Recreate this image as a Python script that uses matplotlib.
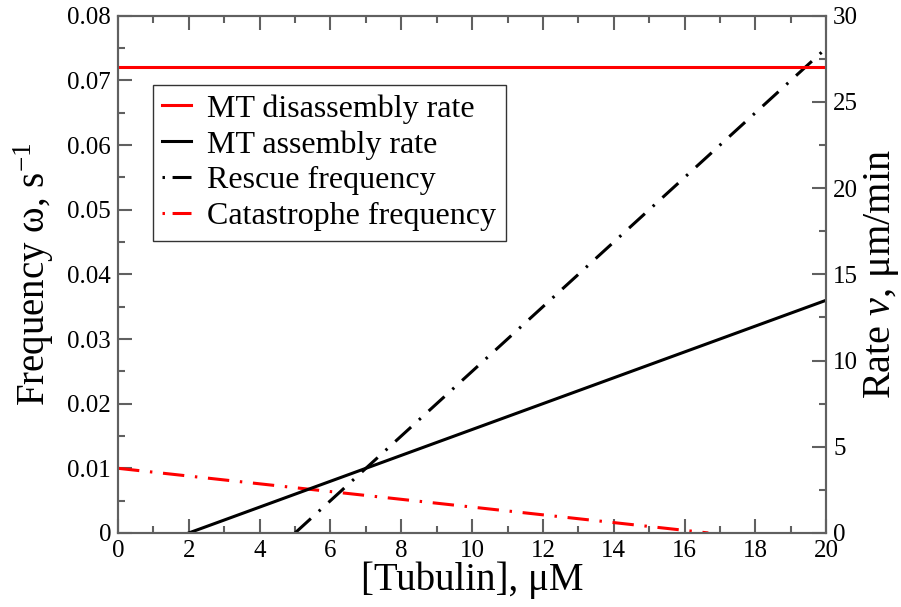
import matplotlib
matplotlib.use("Agg")
import matplotlib.pyplot as plt
from matplotlib.ticker import MultipleLocator

plt.rcParams['font.family'] = ['Liberation Serif', 'DejaVu Serif']
plt.rcParams['mathtext.fontset'] = 'custom'
plt.rcParams['mathtext.rm'] = 'Liberation Serif'
plt.rcParams['mathtext.it'] = 'Liberation Serif:italic'

# Data
disassembly_x = [0, 20]
disassembly_rate = [27, 27]          # um/min (right axis)
assembly_x = [2, 20]
assembly_rate = [0, 13.5]            # um/min (right axis)
rescue_x = [5, 20]
rescue_freq = [0, 0.075]             # 1/s (left axis)
catastrophe_x = [0, 16.67]
catastrophe_freq = [0.01, 0]         # 1/s (left axis)

fig = plt.figure(figsize=(9.01, 6.07), dpi=100)
ax = fig.add_axes([0.131, 0.122, 0.786, 0.852])
ax2 = ax.twinx()

lw = 2.2
dd = (0, (7, 3.5, 0.8, 3.5))
l1, = ax2.plot(disassembly_x, disassembly_rate, color='#ff0000', lw=lw, label='MT disassembly rate')
l2, = ax2.plot(assembly_x, assembly_rate, color='black', lw=lw, label='MT assembly rate')
l3, = ax.plot(rescue_x, rescue_freq, color='black', lw=lw, linestyle=dd, label='Rescue frequency')
l4, = ax.plot(catastrophe_x, catastrophe_freq, color='#ff0000', lw=lw, linestyle=dd, label='Catastrophe frequency')

ax.set_xlim(0, 20)
ax.set_ylim(0, 0.08)
ax2.set_ylim(0, 30)

ax.xaxis.set_major_locator(MultipleLocator(2))
ax.xaxis.set_minor_locator(MultipleLocator(1))
ax.yaxis.set_minor_locator(MultipleLocator(0.005))
ax2.yaxis.set_major_locator(MultipleLocator(5))
ax2.yaxis.set_minor_locator(MultipleLocator(2.5))

ax.set_yticks([0, 0.01, 0.02, 0.03, 0.04, 0.05, 0.06, 0.07, 0.08])
ax.set_yticklabels(['0', '0.01', '0.02', '0.03', '0.04', '0.05', '0.06', '0.07', '0.08'])

spine_c = '#606060'
for a in (ax, ax2):
    for s in a.spines.values():
        s.set_color(spine_c)
        s.set_linewidth(1.5)
    a.tick_params(which='both', direction='in', color=spine_c, width=1.5, labelsize=18)
    a.tick_params(which='major', length=10)
    a.tick_params(which='minor', length=5)
ax.tick_params(axis='x', which='both', top=True, pad=5)
ax.tick_params(axis='y', which='both', left=True, right=False, pad=5)
ax2.tick_params(axis='y', which='both', right=True, left=False, pad=5)

ax.set_xlabel('[Tubulin], μM', fontsize=28, labelpad=0)
ax.set_ylabel('Frequency ω, s$^{-1}$', fontsize=28, labelpad=8)
ax2.set_ylabel('Rate $v$, μm/min', fontsize=29, labelpad=3)

leg = ax.legend(handles=[l1, l2, l3, l4], loc='upper left', bbox_to_anchor=(0.049, 0.867),
                fontsize=23, frameon=True, fancybox=False, edgecolor='black',
                handlelength=0.9, handletextpad=0.5, borderpad=0.3, labelspacing=0.2,
                borderaxespad=0)
leg.get_frame().set_linewidth(1.0)
for h in leg.legend_handles[2:]:
    h.set_linestyle((0, (0.8, 2.5, 7, 3)))

fig.savefig('out.png', dpi=100)
